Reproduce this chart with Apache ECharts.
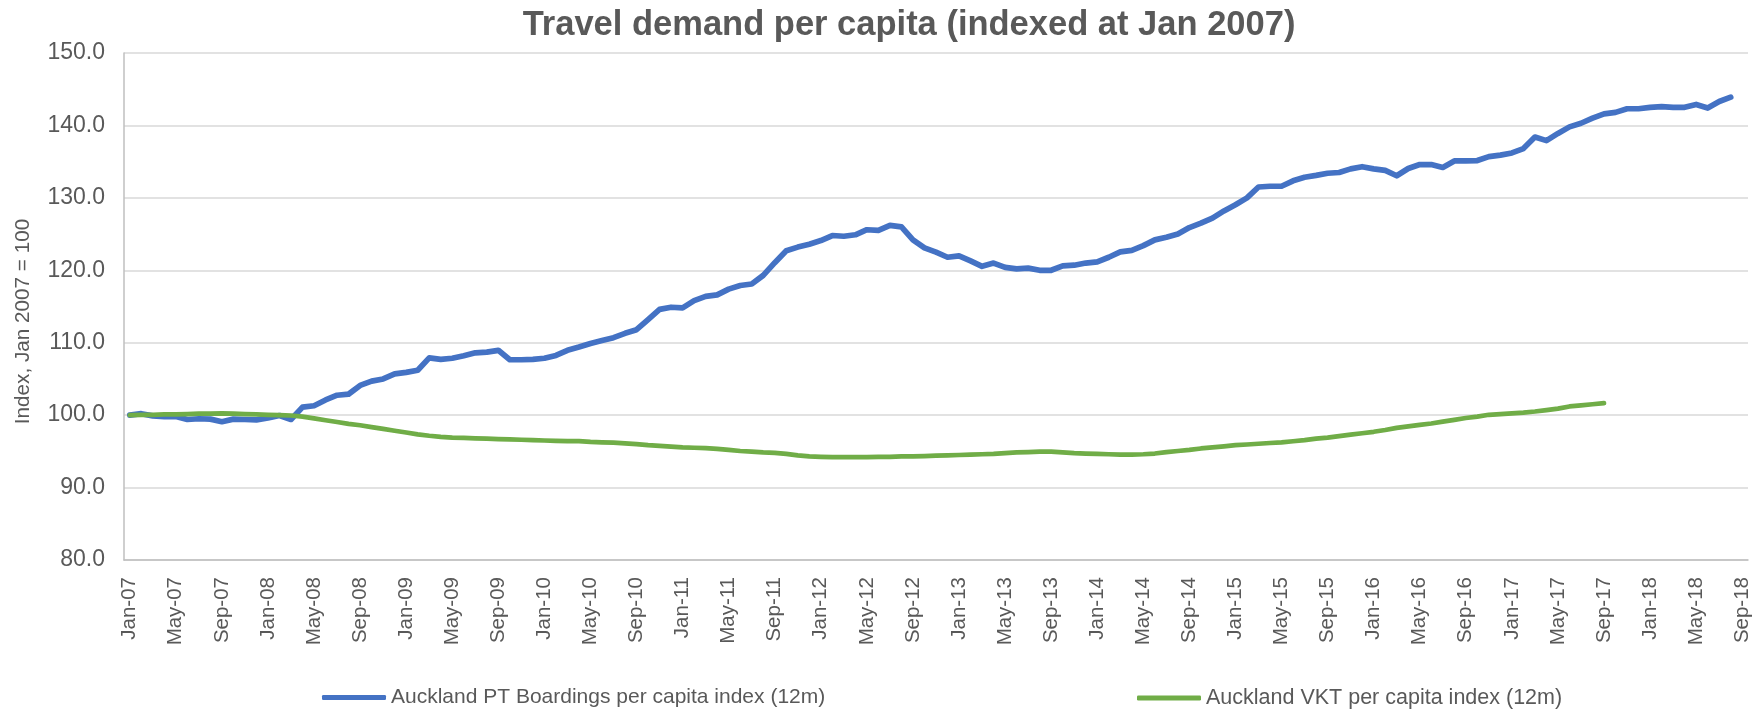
<!DOCTYPE html>
<html>
<head>
<meta charset="utf-8">
<title>Travel demand per capita</title>
<script src="https://cdn.jsdelivr.net/npm/echarts@6/dist/echarts.min.js"></script>
<style>
  html, body { margin: 0; padding: 0; background: #fff; }
  #chart { width: 1757px; height: 710px; }
</style>
</head>
<body>
<div id="chart"></div>
<script>
// month labels, Jan-07 .. Sep-18
var monthNames = ['Jan', 'Feb', 'Mar', 'Apr', 'May', 'Jun', 'Jul', 'Aug', 'Sep', 'Oct', 'Nov', 'Dec']
var firstYear = 2007
var lastYear = 2018
var lastMonth = 8 // Sep

var months = []
for (var y = firstYear; y <= lastYear; y++) {
  for (var m = 0; m < 12; m++) {
    if (y === lastYear && m > lastMonth) break
    months.push(monthNames[m] + '-' + String(y).slice(2))
  }
}

// Auckland PT Boardings per capita index (12m), Jan-07 .. Aug-18
var ptBoardings = [
  100.0, 100.2, 99.9, 99.8, 99.8, 99.4, 99.5, 99.45, 99.1, 99.45, 99.4, 99.35,
  99.6, 99.95, 99.4, 101.1, 101.3, 102.1, 102.75, 102.9, 104.1, 104.7, 105.0, 105.7,
  105.9, 106.2, 107.9, 107.7, 107.85, 108.2, 108.6, 108.7, 108.95, 107.65, 107.65, 107.7,
  107.85, 108.25, 108.95, 109.4, 109.9, 110.3, 110.7, 111.3, 111.8, 113.2, 114.6, 114.9,
  114.8, 115.8, 116.4, 116.6, 117.4, 117.9, 118.1, 119.3, 121.05, 122.7, 123.2, 123.6,
  124.1, 124.8, 124.7, 124.9, 125.6, 125.5, 126.2, 126.0, 124.2, 123.1, 122.5, 121.8,
  122.0, 121.3, 120.55, 121.0, 120.4, 120.2, 120.3, 120.0, 120.0, 120.6, 120.7, 121.0,
  121.15, 121.8, 122.55, 122.75, 123.4, 124.2, 124.55, 125.0, 125.9, 126.5, 127.2, 128.2,
  129.05, 130.0, 131.5, 131.6, 131.6, 132.35, 132.85, 133.1, 133.4, 133.5, 134.0, 134.3,
  134.0, 133.8, 133.05, 134.05, 134.6, 134.6, 134.2, 135.1, 135.1, 135.15, 135.7, 135.9,
  136.2, 136.8, 138.4, 137.9, 138.9, 139.8, 140.3, 141.0, 141.6, 141.8, 142.3, 142.3,
  142.5, 142.6, 142.5, 142.5, 142.9, 142.4, 143.3, 143.9
]

// Auckland VKT per capita index (12m), Jan-07 .. Sep-17
var vkt = [
  100.0, 100.05, 100.05, 100.1, 100.1, 100.15, 100.2, 100.2, 100.25, 100.2, 100.15, 100.1,
  100.05, 100.0, 99.95, 99.8, 99.55, 99.3, 99.05, 98.8, 98.6, 98.35, 98.1, 97.85,
  97.6, 97.35, 97.15, 97.0, 96.9, 96.85, 96.8, 96.75, 96.7, 96.65, 96.6, 96.55,
  96.5, 96.45, 96.4, 96.4, 96.3, 96.25, 96.2, 96.1, 96.0, 95.85, 95.75, 95.65,
  95.55, 95.5, 95.45, 95.35, 95.2, 95.05, 94.95, 94.85, 94.8, 94.65, 94.45, 94.3,
  94.25, 94.2, 94.2, 94.2, 94.2, 94.25, 94.25, 94.3, 94.3, 94.35, 94.4, 94.45,
  94.5, 94.55, 94.6, 94.65, 94.75, 94.85, 94.9, 94.95, 94.95, 94.85, 94.75, 94.7,
  94.65, 94.6, 94.55, 94.55, 94.6, 94.7, 94.9, 95.05, 95.2, 95.4, 95.55, 95.7,
  95.85, 95.95, 96.05, 96.15, 96.25, 96.4, 96.55, 96.75, 96.9, 97.1, 97.3, 97.5,
  97.7, 97.95, 98.25, 98.45, 98.65, 98.85, 99.1, 99.35, 99.6, 99.8, 100.05, 100.15,
  100.25, 100.35, 100.5, 100.7, 100.9, 101.2, 101.35, 101.5, 101.65
]

var seriesNames = ['Auckland PT Boardings per capita index (12m)', 'Auckland VKT per capita index (12m)']
var yTicks = { min: 80, max: 150, step: 10 }

var textColor = '#595959'
var chart = echarts.init(document.getElementById('chart'))

var option = {
  animation: false,
  title: {
    text: 'Travel demand per capita (indexed at Jan 2007)',
    left: 909,
    top: 8,
    padding: 0,
    textAlign: 'center',
    textStyle: {
      fontFamily: 'Liberation Sans',
      fontSize: 34.5,
      fontWeight: 'bold',
      color: textColor
    }
  },
  legend: [{
    data: [seriesNames[0]],
    left: 322,
    top: 687,
    padding: 0,
    icon: 'roundRect',
    itemWidth: 64,
    itemHeight: 5,
    textStyle: { fontFamily: 'Liberation Sans', fontSize: 21, color: textColor }
  }, {
    data: [seriesNames[1]],
    left: 1137,
    top: 687,
    padding: 0,
    icon: 'roundRect',
    itemWidth: 64,
    itemHeight: 5,
    textStyle: { fontFamily: 'Liberation Sans', fontSize: 21.5, color: textColor }
  }],
  grid: {
    left: 124,
    right: 9,
    top: 53,
    bottom: 150
  },
  xAxis: {
    type: 'category',
    data: months,
    boundaryGap: true,
    axisLine: { lineStyle: { color: '#bfbfbf', width: 1.5 } },
    axisTick: { show: false },
    axisLabel: {
      interval: 3,
      rotate: 90,
      margin: 17,
      fontFamily: 'Liberation Sans',
      fontSize: 20.5,
      color: textColor
    }
  },
  yAxis: {
    type: 'value',
    min: yTicks.min,
    max: yTicks.max,
    interval: yTicks.step,
    name: 'Index, Jan 2007 = 100',
    nameLocation: 'middle',
    nameGap: 90,
    nameTextStyle: {
      fontFamily: 'Liberation Sans',
      fontSize: 20.7,
      color: textColor,
      padding: [0, 30, 0, 0]
    },
    axisLine: { show: true, lineStyle: { color: '#bfbfbf', width: 1.5 } },
    axisTick: { show: false },
    axisLabel: {
      margin: 19,
      fontFamily: 'Liberation Sans',
      fontSize: 23,
      color: textColor,
      formatter: function (v) { return v.toFixed(1) }
    },
    splitLine: { lineStyle: { color: '#d9d9d9', width: 1.5 } }
  },
  series: [{
    name: seriesNames[0],
    type: 'line',
    data: ptBoardings,
    symbol: 'none',
    color: '#4472c4',
    lineStyle: { width: 5.7, color: '#4472c4', cap: 'round', join: 'round' }
  }, {
    name: seriesNames[1],
    type: 'line',
    data: vkt,
    symbol: 'none',
    color: '#70ad47',
    lineStyle: { width: 4.7, color: '#70ad47', cap: 'round', join: 'round' }
  }]
}
chart.setOption(option)
</script>
</body>
</html>
